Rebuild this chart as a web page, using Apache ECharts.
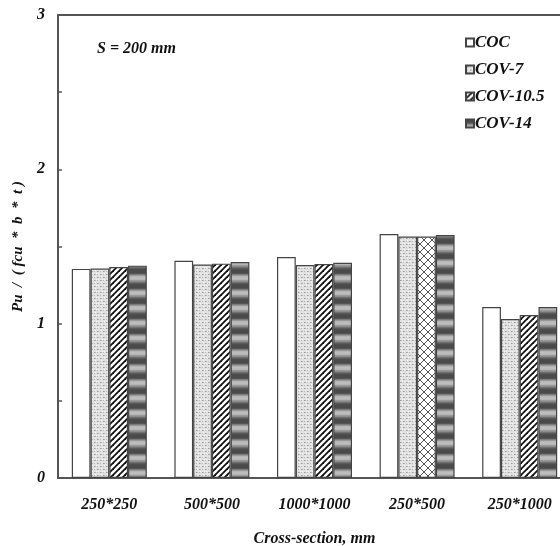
<!DOCTYPE html>
<html>
<head>
<meta charset="utf-8">
<script src="https://cdn.jsdelivr.net/npm/echarts@6/dist/echarts.min.js"></script>
<style>html,body{margin:0;padding:0;background:#fff}#c{width:560px;height:546px}</style>
</head>
<body>
<div id="c"></div>
<script>
const categories = ['250*250', '500*500', '1000*1000', '250*500', '250*1000'];
const seriesNames = ['COC', 'COV-7', 'COV-10.5', 'COV-14'];
const COC = [1.355, 1.408, 1.432, 1.581, 1.108];
const COV7 = [1.357, 1.383, 1.380, 1.564, 1.030];
const COV105 = [1.367, 1.389, 1.387, 1.564, 1.056];
const COV14 = [1.376, 1.400, 1.395, 1.575, 1.108];
const yTicks = [0, 1, 2, 3];

function mk(w, h, draw) {
  const c = document.createElement('canvas');
  c.width = w; c.height = h;
  draw(c.getContext('2d'));
  return { image: c, repeat: 'repeat' };
}
const stipple = mk(6, 6, g => {
  g.fillStyle = '#e2e2e2'; g.fillRect(0, 0, 6, 6);
  g.fillStyle = '#9a9a9a';
  g.fillRect(1, 1, 1, 1); g.fillRect(4, 4, 1, 1);
  g.fillStyle = '#b8b8b8';
  g.fillRect(4, 1, 1, 1); g.fillRect(1, 4, 1, 1); g.fillRect(2, 1, 1, 1); g.fillRect(5, 4, 1, 1);
  g.fillStyle = '#f6f6f6';
  g.fillRect(2, 3, 1, 1); g.fillRect(5, 0, 1, 1); g.fillRect(0, 3, 1, 1);
});
const hatch = mk(6, 6, g => {
  g.fillStyle = '#ffffff'; g.fillRect(0, 0, 6, 6);
  g.strokeStyle = '#111'; g.lineWidth = 1.8;
  for (const o of [-6, 0, 6]) {
    g.beginPath(); g.moveTo(o - 1, 7); g.lineTo(o + 7, -1); g.stroke();
  }
});
const woven = mk(8, 8, g => {
  g.fillStyle = '#ffffff'; g.fillRect(0, 0, 8, 8);
  g.strokeStyle = '#555'; g.lineWidth = 1;
  for (const o of [-8, 0, 8]) {
    g.beginPath(); g.moveTo(o, 8); g.lineTo(o + 8, 0); g.stroke();
    g.beginPath(); g.moveTo(o, 0); g.lineTo(o + 8, 8); g.stroke();
  }
});
const stripes = mk(2, 15, g => {
  const rows = ['#4a4a4a','#4a4a4a','#4a4a4a','#555','#7a7a7a','#999','#b5b5b5','#bdbdbd','#bdbdbd','#b5b5b5','#999','#8a8a8a','#707070','#5a5a5a','#4e4e4e'];
  rows.forEach((col, i) => { g.fillStyle = col; g.fillRect(0, i, 2, 1); });
});

const font = { fontFamily: 'Liberation Serif', fontWeight: 'bold', fontStyle: 'italic', color: '#111' };
const border = { borderColor: '#444', borderWidth: 1.2 };

function series(name, data, color, special) {
  return {
    name, type: 'bar', barWidth: 18.75, barGap: '0%',
    itemStyle: Object.assign({ color }, border),
    data: data.map((v, i) => (special && special[i]) ? { value: v, itemStyle: { color: special[i] } } : v)
  };
}

const chart = echarts.init(document.getElementById('c'), null, { renderer: 'canvas' });
chart.setOption({
  animation: false,
  backgroundColor: '#fff',
  grid: { left: 58, top: 15, width: 513, height: 463, outerBoundsMode: 'none', containLabel: false, show: false },
  legend: {
    orient: 'vertical', left: 460, top: 29, itemWidth: 8, itemHeight: 8, itemGap: 10,
    data: seriesNames, icon: 'rect',
    textStyle: Object.assign({ fontSize: 17, padding: [0, 0, 0, -4] }, font)
  },
  graphic: [{
    type: 'text', left: 97, top: 41,
    style: { text: 'S = 200 mm', fontSize: 16, fill: '#111', fontFamily: 'Liberation Serif', fontWeight: 'bold', fontStyle: 'italic' }
  }],
  xAxis: [{
    type: 'category', data: categories,
    axisLine: { lineStyle: { color: '#555', width: 2 } },
    axisTick: { show: false },
    axisLabel: Object.assign({ fontSize: 16, margin: 19 }, font),
    name: 'Cross-section, mm', nameLocation: 'middle', nameGap: 53,
    nameTextStyle: Object.assign({ fontSize: 16 }, font)
  }, {
    type: 'category', data: categories, position: 'top',
    axisLine: { show: true, lineStyle: { color: '#555', width: 2 } },
    axisTick: { show: false }, axisLabel: { show: false }, splitLine: { show: false }
  }],
  yAxis: {
    type: 'value', min: yTicks[0], max: yTicks[yTicks.length - 1], interval: 1,
    axisLine: { show: true, lineStyle: { color: '#555', width: 2 } },
    axisTick: { show: true, inside: true, length: 4, lineStyle: { color: '#555', width: 1.5 } },
    minorTick: { show: true, splitNumber: 2, length: 4, lineStyle: { color: '#555', width: 1.5 } },
    splitLine: { show: false },
    axisLabel: Object.assign({ fontSize: 16, margin: 13 }, font),
    name: 'Pu  /  ( fcu  *  b  *  t )', nameLocation: 'middle', nameGap: 30, nameRotate: 90,
    nameTextStyle: Object.assign({ fontSize: 15 }, font)
  },
  series: [
    series('COC', COC, '#ffffff'),
    series('COV-7', COV7, stipple),
    series('COV-10.5', COV105, hatch, [null, null, null, woven, null]),
    series('COV-14', COV14, stripes)
  ]
});
</script>
</body>
</html>
